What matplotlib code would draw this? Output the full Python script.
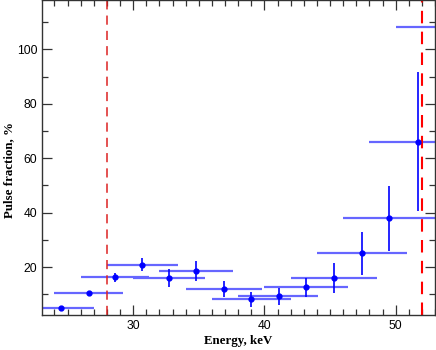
import matplotlib
matplotlib.use("Agg")
import matplotlib.pyplot as plt
from matplotlib.ticker import MultipleLocator

# energy bins (keV): centre, left edge, right edge
energy = [24.5, 26.6, 28.6, 30.7, 32.7, 34.8, 36.9, 39.0, 41.1, 43.2, 45.3, 47.4, 49.5, 51.7, 53.9]
e_lo = [22.0, 24.0, 26.0, 28.0, 30.0, 32.0, 34.0, 36.0, 38.0, 40.0, 42.0, 44.0, 46.0, 48.0, 50.0]
e_hi = [27.0, 29.2, 31.2, 33.4, 35.5, 37.6, 39.8, 42.0, 44.1, 46.4, 48.6, 50.9, 53.1, 55.4, 57.8]

# pulse fraction (%) and its error
pf = [5.0, 10.4, 16.2, 20.9, 16.0, 18.6, 11.9, 8.1, 9.3, 12.6, 16.1, 25.1, 37.9, 66.1, 108.3]
pf_err = [0.0, 0.0, 1.6, 2.3, 3.3, 3.6, 3.0, 2.8, 3.2, 3.5, 5.5, 7.9, 12.0, 25.5, 30.0]

# energy band borders
borders = [28.0, 52.0]

fig = plt.figure(figsize=(4.36, 3.5), dpi=100)
ax = fig.add_axes([0.0963, 0.1, 0.9014, 0.9])

xerr = [[c - l for c, l in zip(energy, e_lo)], [h - c for c, h in zip(energy, e_hi)]]
ax.errorbar(energy, pf, xerr=xerr, fmt='none', ecolor='#6666ff', elinewidth=1.6, capsize=0)
ax.errorbar(energy, pf, yerr=pf_err, fmt='o', color='blue', ecolor='blue',
            elinewidth=1.2, markersize=3.5, capsize=0)

ax.axvline(borders[0], color='#dd2222', lw=1.1, dashes=(6, 4))
ax.axvline(borders[1], color='red', lw=1.5, dashes=(6, 4))

ax.set_xlim(23.05, 53.0)
ax.set_ylim(2.4, 118.1)
ax.xaxis.set_major_locator(MultipleLocator(10))
ax.xaxis.set_minor_locator(MultipleLocator(1))
ax.yaxis.set_major_locator(MultipleLocator(20))
ax.yaxis.set_minor_locator(MultipleLocator(10))
ax.tick_params(which='both', direction='in', top=True, right=True,
               labelsize=8.7, colors='#333333', labelcolor='black')
ax.tick_params(which='major', length=7, width=0.9)
ax.tick_params(which='minor', length=4, width=0.9)
for lab in ax.get_xticklabels() + ax.get_yticklabels():
    lab.set_family('Liberation Sans')
for s in ax.spines.values():
    s.set_color('#333333')
    s.set_linewidth(1.0)

ax.set_xlabel('Energy, keV', family='Liberation Serif', fontweight='bold', fontsize=9.3, labelpad=2)
ax.set_ylabel('Pulse fraction, %', family='Liberation Serif', fontweight='bold', fontsize=9.3)
ax.yaxis.set_label_coords(-0.069, 0.46)

fig.savefig('out.png', dpi=100)
